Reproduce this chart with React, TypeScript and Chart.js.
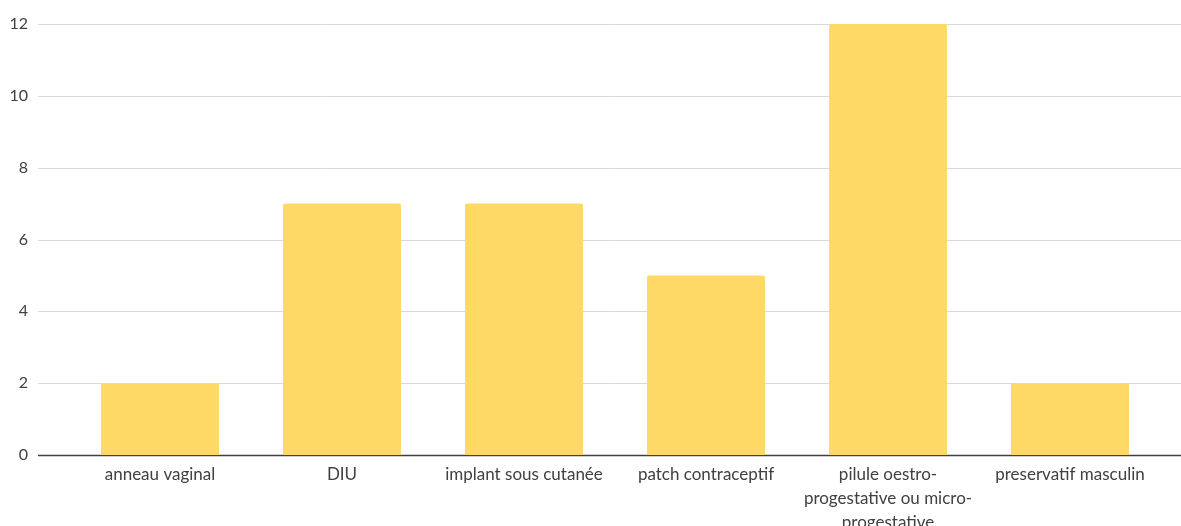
import React, { useEffect, useRef } from "react";
import { Chart, registerables } from "chart.js";

Chart.register(...registerables);

const categories: (string | string[])[] = [
  "anneau vaginal",
  "DIU",
  "implant sous cutanée",
  "patch contraceptif",
  ["pilule oestro-", "progestative ou micro-", "progestative"],
  "preservatif masculin",
];
const values = [2, 7, 7, 5, 12, 2];
const yTicks = [0, 2, 4, 6, 8, 10, 12];

const gridPlugin = {
  id: "wideGrid",
  beforeDatasetsDraw(chart: any) {
    const ctx = chart.ctx;
    const y = chart.scales.y;
    ctx.save();
    for (const v of yTicks) {
      const py = Math.round(y.getPixelForValue(v)) + 0.5;
      ctx.beginPath();
      ctx.strokeStyle = v === 0 ? "#404040" : "#D9D9D9";
      ctx.lineWidth = v === 0 ? 1.3 : 1;
      ctx.moveTo(38, py);
      ctx.lineTo(chart.width, py);
      ctx.stroke();
    }
    ctx.restore();
  },
};

export default function App() {
  const ref = useRef<HTMLCanvasElement>(null);
  useEffect(() => {
    document.body.style.margin = "0";
    const chart = new Chart(ref.current!, {
      type: "bar",
      data: {
        labels: categories,
        datasets: [
          {
            data: values,
            backgroundColor: "#FFD966",
            borderRadius: 2,
            borderSkipped: "bottom",
            categoryPercentage: 1,
            barPercentage: 0.648,
          },
        ],
      },
      options: {
        animation: false,
        responsive: false,
        layout: { padding: { top: 24, right: 20, left: 0, bottom: 0 } },
        plugins: { legend: { display: false }, tooltip: { enabled: false } },
        scales: {
          x: {
            grid: { display: false },
            border: { display: false },
            ticks: {
              color: "#404040",
              padding: 0,
              maxRotation: 0,
              autoSkip: false,
              font: { family: "Lato", size: 17, lineHeight: 1.4 },
            },
            afterFit: (s: any) => {
              s.height = 71;
              s.paddingLeft = 0;
              s.paddingRight = 0;
            },
          },
          y: {
            min: 0,
            max: 12,
            grid: { display: false },
            border: { display: false },
            ticks: {
              stepSize: 2,
              color: "#404040",
              padding: 33,
              font: { family: "Lato", size: 16 },
            },
            afterFit: (s: any) => {
              s.width = 69;
              s.paddingTop = 0;
              s.paddingBottom = 0;
            },
          },
        },
      },
      plugins: [gridPlugin],
    });
    return () => chart.destroy();
  }, []);
  return <canvas ref={ref} width={1181} height={526} style={{ display: "block" }} />;
}
